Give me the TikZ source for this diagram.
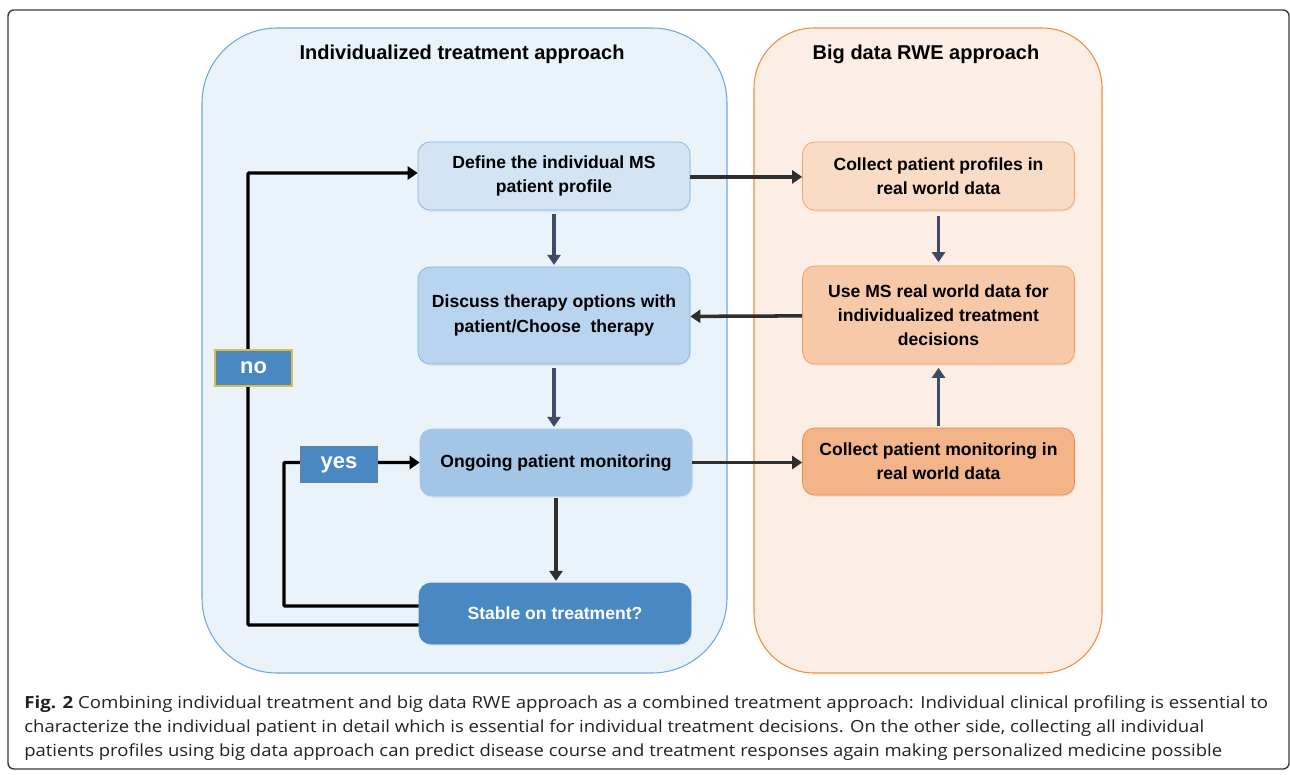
\documentclass[tikz,border=0pt]{standalone}
\usepackage{fontspec}
\setmainfont{Liberation Sans}
\newfontfamily\capfont{Open Sans}
\usetikzlibrary{arrows.meta,shadows}
\definecolor{framegray}{HTML}{3A3A3A}
\definecolor{panelblue}{HTML}{EAF2FA}
\definecolor{paneledge}{HTML}{6DA7DE}
\definecolor{panelorange}{HTML}{FDEEE5}
\definecolor{orangeedge}{HTML}{F28C3C}
\definecolor{blueA}{HTML}{D3E4F4}
\definecolor{blueB}{HTML}{B9D4EE}
\definecolor{blueC}{HTML}{A3C6E7}
\definecolor{blueD}{HTML}{4A88C4}
\definecolor{blueline}{HTML}{7FB2E5}
\definecolor{orA}{HTML}{F9DBC6}
\definecolor{orB}{HTML}{F7C9A8}
\definecolor{orC}{HTML}{F3B489}
\definecolor{orAline}{HTML}{F5A467}
\definecolor{orBline}{HTML}{F39A55}
\definecolor{arrowdark}{HTML}{2E2E2E}
\definecolor{arrowslate}{HTML}{3F4A66}
\definecolor{taggold}{HTML}{D9BE4A}
\definecolor{taggray}{HTML}{6D7C8E}
\definecolor{captext}{HTML}{222222}

\begin{document}
\begin{tikzpicture}[x=0.02cm, y=-0.02cm,
  box/.style={rounded corners=0.24cm, align=center, minimum width=5.44cm, inner sep=0pt,
    font=\bfseries\fontsize{10}{13.8}\selectfont,
    drop shadow={opacity=0.12, shadow xshift=0.5pt, shadow yshift=-1pt}},
  tag/.style={minimum width=1.54cm, minimum height=0.72cm, inner sep=0pt, fill=blueD,
    text=white, font=\bfseries\fontsize{12.5}{14}\selectfont},
  link/.style={line width=2pt, -{Triangle[length=2mm,width=2.6mm]}},
  loopline/.style={line width=1.9pt, color=black, rounded corners=0.5pt},
  capline/.style={anchor=base west, inner sep=0pt, text=captext, font=\capfont\fontsize{9.5}{12}\selectfont}]
	\useasboundingbox (0,0) rectangle (1290,774);
	\draw[color=framegray, line width=0.8pt, rounded corners=0.12cm] (8,10) rectangle (1289,769);
	\draw[color=paneledge, fill=panelblue, line width=0.6pt, rounded corners=1.5cm] (202,28) rectangle (727,673);
	\draw[color=orangeedge, fill=panelorange, line width=0.6pt, rounded corners=1.2cm] (754,28) rectangle (1102,673);
	\node[font=\bfseries\fontsize{11.4}{13}\selectfont] (lefttitle) at (462,54) {Individualized treatment approach};
	\node[font=\bfseries\fontsize{11.4}{13}\selectfont] (righttitle) at (926,54) {Big data RWE approach};

	\node[box, fill=blueA, draw=blueline, minimum height=1.36cm] (profile) at (554,176) {Define the individual MS\\patient profile};
	\node[box, fill=blueB, draw=blueline, minimum height=1.94cm] (discuss) at (554,315.5) {Discuss therapy options with\\patient/Choose\ \ therapy};
	\node[box, fill=blueC, draw=blueC, minimum height=1.34cm] (monitor) at (556,462.5) {Ongoing patient monitoring};
	\node[box, fill=blueD, draw=blueD, text=white, minimum height=1.22cm] (stable) at (555,613.5) {Stable on treatment?};

	\node[box, fill=orA, draw=orAline, minimum height=1.36cm] (collect) at (938.5,176) {Collect patient profiles in\\real world data};
	\node[box, fill=orB, draw=orBline, minimum height=1.96cm] (usedata) at (938.5,315) {Use MS real world data for\\individualized treatment\\decisions};
	\node[box, fill=orC, draw=orangeedge, minimum height=1.34cm] (collectmon) at (938.5,461.5) {Collect patient monitoring in\\real world data};

	\draw[link, color=arrowdark] ([yshift=-0.5pt]profile.east) -- ([yshift=-0.5pt]collect.west);
	\draw[link, color=arrowdark] ([yshift=-0.5pt]usedata.west) -- ([yshift=-0.5pt]discuss.east);
	\draw[link, color=arrowdark] (monitor.east) -- (monitor.east -| collectmon.west);
	\draw[link, color=arrowslate, shorten <=2pt, shorten >=1pt] (profile.south) -- (discuss.north);
	\draw[link, color=arrowslate, shorten <=2pt, shorten >=1pt] (discuss.south) -- (discuss.south |- monitor.north);
	\draw[link, color=arrowdark, shorten <=1pt, shorten >=1pt] (monitor.south) -- (monitor.south |- stable.north);
	\draw[link, color=arrowslate, shorten <=3pt, shorten >=2pt] (collect.south) -- (usedata.north);
	\draw[link, color=arrowslate, shorten <=1pt, shorten >=2pt] (collectmon.north) -- (usedata.south);

	\coordinate (nox) at (248,400);
	\coordinate (yesx) at (284,530);
	\draw[loopline, -{Triangle[length=2mm,width=2.6mm]}] ([yshift=-0.23cm]stable.west) -| (nox) |- ([yshift=0.06cm]profile.west);
	\draw[loopline, -{Triangle[length=2mm,width=2.6mm]}] ([yshift=0.15cm]stable.west) -| (yesx) |- (monitor.west);
	\node[tag, draw=taggold, line width=0.8pt] (no) at (253.5,368) {no};
	\node[tag, draw=taggray, line width=0.8pt] (yes) at (339,464.5) {yes};

	\node[capline] (capA) at (24,708) {\resizebox{24.88cm}{\height}{\textbf{Fig. 2} Combining individual treatment and big data RWE approach as a combined treatment approach: Individual clinical profiling is essential to}};
	\node[capline] (capB) at (24,732) {\resizebox{23.6cm}{\height}{characterize the individual patient in detail which is essential for individual treatment decisions. On the other side, collecting all individual}};
	\node[capline] (capC) at (24,756) {\resizebox{23.96cm}{\height}{patients profiles using big data approach can predict disease course and treatment responses again making personalized medicine possible}};
\end{tikzpicture}
\end{document}
